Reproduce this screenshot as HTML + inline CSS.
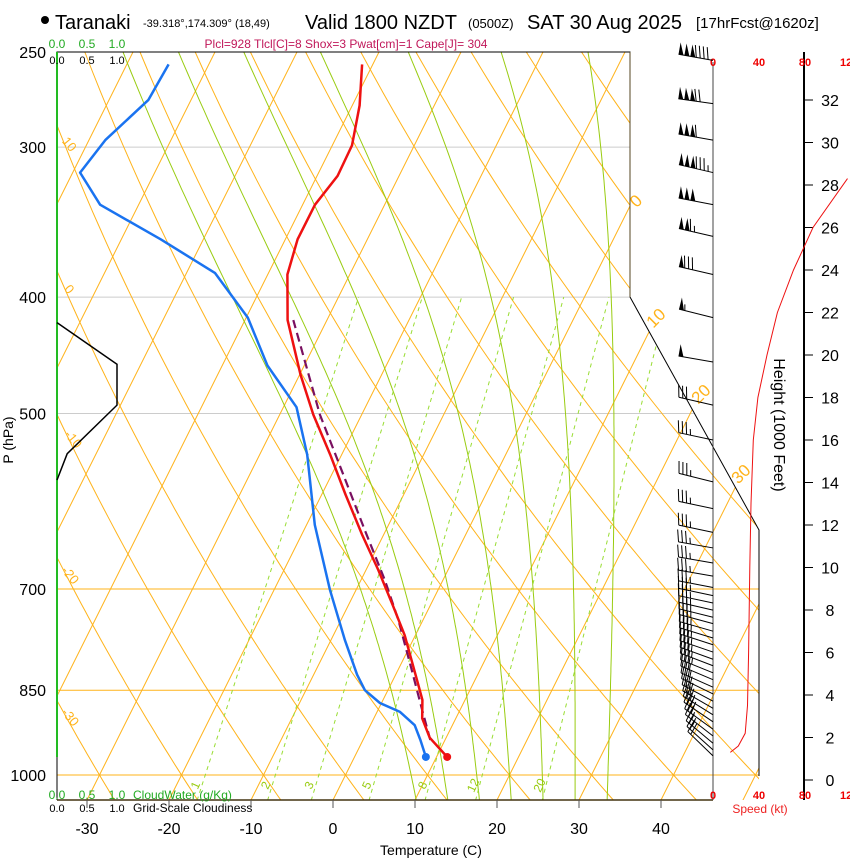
<!DOCTYPE html>
<html><head><meta charset="utf-8">
<style>
html,body{margin:0;padding:0;background:#fff;}
svg{display:block;font-family:"Liberation Sans",Arial,sans-serif;}
</style></head>
<body>
<svg id="chart" width="850" height="860" viewBox="0 0 850 860" xmlns="http://www.w3.org/2000/svg">
<defs>
<clipPath id="plotclip"><polygon points="57,52 630,52 630,297 759,530 759,800 57,800"/></clipPath>
</defs>
<g>
<circle cx="45" cy="20" r="4" fill="#000"/>
<text x="55" y="29" font-size="20">Taranaki</text>
<text x="143" y="27" font-size="11">-39.318°,174.309° (18,49)</text>
<text x="305" y="29" font-size="20">Valid 1800 NZDT</text>
<text x="468" y="28" font-size="13">(0500Z)</text>
<text x="527" y="29" font-size="20">SAT 30 Aug 2025</text>
<text x="696" y="28" font-size="15">[17hrFcst@1620z]</text>
</g>
<text x="346" y="48" font-size="12" fill="#c0185a" text-anchor="middle">Plcl=928 Tlcl[C]=8 Shox=3 Pwat[cm]=1 Cape[J]= 304</text>
<g id="bg" clip-path="url(#plotclip)"></g>
<g id="fg"></g>
</svg>
<script>
// ---- data ----
const tempP = [966,931,897,866,833,765,722,675,631,584,541,501,464,418,383,358,335,317,299,277,256];
const tempT = [11.3,8.0,5.9,4.8,2.9,-1.3,-4.6,-8.5,-12.6,-17.1,-21.4,-25.9,-29.9,-34.8,-37.6,-38.5,-38.5,-37.5,-37.6,-39.1,-41.3];
const dewP = [966,935,909,886,871,850,825,772,701,619,541,494,456,416,382,358,335,315,296,274,256];
const dewT = [8.7,7.0,5.4,2.8,-0.2,-2.8,-4.7,-8.3,-13.2,-19.0,-24.2,-28.4,-34.5,-39.8,-46.5,-55.2,-64.7,-69.1,-68.0,-65.2,-64.9];
const parcelP = [935,883,818,743,688,625,568,501,418];
const parcelT = [8.2,5.4,1.7,-3.0,-7.1,-12.6,-18.0,-25.1,-34.1];
const cloudP = [420,455,492,540,568];
const cloudFrac = [0.0,1.0,1.0,0.17,0.0];
const windP = [254,276,296,315,335,356,383,416,453,492,526,570,600,628,647,666,683,698,709,719,729,739,748,759,769,779,790,801,811,822,833,845,856,868,880,891,903,916,928,941,953,964];
const windSpd = [190,170,160,185,150,115,80,55,50,30,35,35,35,35,35,35,35,35,35,35,35,35,35,35,35,35,35,35,35,35,33,33,33,33,33,32,32,30,28,25,22,20];
const windDir = [280,278,280,283,281,283,283,284,280,283,282,284,282,282,280,280,280,281,282,282,283,284,285,286,287,288,289,290,291,292,293,294,296,298,300,302,304,306,308,310,312,314];
const speedH = [1.3,1.6,2.2,3.5,6,10,13,16,18,20,22,24,26,28.3];
const speedV = [15,22,28,30,31,32,33,35,39,47,56,70,87,117];
const isoT = [-110,-100,-90,-80,-70,-60,-50,-40,-30,-20,-10,0,10,20,30,40,50];
const thetaC = [-40,-30,-20,-10,0,10,20,30,40,50,60,70,80,90,100,110,120,130,140,150,160];
const moistT = [8,12,16,20,24,28,32];
const mixW = [1,2,3,5,8,12,20];
const pTicks = [250,300,400,500,700,850,1000];
const tTicks = [-30,-20,-10,0,10,20,30,40];
const hTicks = [0,2,4,6,8,10,12,14,16,18,20,22,24,26,28,30,32];

// ---- axes ----
const NS="http://www.w3.org/2000/svg";
function yP(p){return 775-521.5*Math.log(1000/p);}
function xT(t,p){return 333+8.2*t+0.5*(800-yP(p));}
function yH(h){return 780-21.25*h;}
function xS(s){return 713+s*1.15;}
const bg=document.getElementById('bg'), fg=document.getElementById('fg');
function el(tag,attrs,parent){const e=document.createElementNS(NS,tag);for(const k in attrs)e.setAttribute(k,attrs[k]);parent.appendChild(e);return e;}
function pathD(pts){return pts.map((q,i)=>(i?'L':'M')+q[0].toFixed(1)+','+q[1].toFixed(1)).join('');}
function txt(x,y,s,attrs,parent){const t=el('text',Object.assign({x:x,y:y},attrs),parent);t.textContent=s;return t;}
const ORANGE="#ffb31a", GREEN="#99cc11";

[1000,850,700].forEach(p=>{
 const l=el('line',{x1:57,x2:760,y1:yP(p),y2:yP(p),stroke:ORANGE,'stroke-width':1},bg);
 
 
});
[500,400,300].forEach(p=>{
 const l=el('line',{x1:57,x2:760,y1:yP(p),y2:yP(p),stroke:'#cccccc','stroke-width':1},bg);
 
 
});
isoT.forEach(t=>{
 const l=el('line',{x1:xT(t,1050),y1:yP(1050),x2:xT(t,240),y2:yP(240),stroke:ORANGE,'stroke-width':1},bg);
 
 
});
thetaC.forEach(th=>{
 const pts=[];for(let p=1060;p>=240;p-=10){const T=(th+273.15)*Math.pow(p/1000,0.2857)-273.15;pts.push([xT(T,p),yP(p)]);}
 const l=el('path',{d:pathD(pts),fill:'none',stroke:ORANGE,'stroke-width':1},bg);
 
 
});
function es(T){return 6.112*Math.exp(17.67*T/(T+243.5));}
function moistLapse(T,p){const Tk=T+273.15;const e=es(T);const r=0.622*e/(p-e);const Lv=2.5e6,Rd=287,cp=1005,eps=0.622;
 return (Rd*Tk+Lv*r)/(cp+Lv*Lv*r*eps/(Rd*Tk*Tk))/p;}
moistT.forEach(t0=>{
 let T=t0,p=1000;const up=[];
 while(p>=240){up.push([xT(T,p),yP(p)]);T-=moistLapse(T,p)*5;p-=5;}
 T=t0;p=1000;const dn=[];
 while(p<=1060){dn.unshift([xT(T,p),yP(p)]);T+=moistLapse(T,p)*5;p+=5;}
 const l=el('path',{d:pathD(dn.concat(up)),fill:'none',stroke:GREEN,'stroke-width':1},bg);
 
 
});
function tdFromW(w,p){const e=w*p/(622+w);const a=Math.log(e/6.112);return 243.5*a/(17.67-a);}
mixW.forEach(w=>{
 const l=el('line',{x1:xT(tdFromW(w,1050),1050),y1:yP(1050),x2:xT(tdFromW(w,400),400),y2:yP(400),stroke:'#99dd33','stroke-width':1,'stroke-dasharray':'4,4'},bg);
 
 
 const x=xT(tdFromW(w,1025),1025)-2;
 const t=txt(x,787,String(w),{'font-size':12,fill:GREEN,'text-anchor':'middle',transform:'rotate(-65 '+x+' 787)'},fg);
 
 
});
const border=el('polyline',{points:'57,800 57,52 630,52 630,297 759,530 759,776',fill:'none',stroke:'#000','stroke-width':1},fg);


el('line',{x1:630,y1:52,x2:630,y2:297,stroke:'#554422','stroke-width':1},fg);
const bot=el('line',{x1:57,x2:713,y1:800,y2:800,stroke:'#443311','stroke-width':1.5},fg);


const cw=el('line',{x1:57,x2:57,y1:52,y2:757,stroke:'#22bb22','stroke-width':2},fg);


[[0,640,205],[10,660,322],[20,705,398],[30,745,478]].forEach(a=>{
 const t=txt(a[1],a[2],String(a[0]),{'font-size':17,fill:ORANGE,'text-anchor':'middle',transform:'rotate(-45 '+a[1]+' '+a[2]+')'},fg);
 
 
});
[[10,66,147],[0,66,292],[-10,70,442],[-20,67,578],[-30,67,720]].forEach(a=>{
 const t=txt(a[1],a[2],String(a[0]),{'font-size':13,fill:ORANGE,'text-anchor':'middle',transform:'rotate(50 '+a[1]+' '+a[2]+')'},fg);
 
 
});
{const pts=cloudP.map((p,i)=>[57+60*cloudFrac[i],yP(p)]);
 const l=el('path',{d:pathD(pts),fill:'none',stroke:'#000','stroke-width':1.5},fg);
 
 }
{const pts=parcelP.map((p,i)=>[xT(parcelT[i],p),yP(p)]);
 const l=el('path',{d:pathD(pts),fill:'none',stroke:'#7a1060','stroke-width':2.2,'stroke-dasharray':'9,5'},fg);
 
 }
{const pts=dewP.map((p,i)=>[xT(dewT[i],p),yP(p)]);
 const l=el('path',{d:pathD(pts),fill:'none',stroke:'#1a73f0','stroke-width':2.5,'stroke-linejoin':'round'},fg);
 
 
 const c=el('circle',{cx:pts[0][0],cy:pts[0][1],r:4,fill:'#1a73f0'},fg);
 
 }
{const pts=tempP.map((p,i)=>[xT(tempT[i],p),yP(p)]);
 const l=el('path',{d:pathD(pts),fill:'none',stroke:'#ee1111','stroke-width':2.5,'stroke-linejoin':'round'},fg);
 
 
 const c=el('circle',{cx:pts[0][0],cy:pts[0][1],r:4,fill:'#ee1111'},fg);
 
 }
pTicks.forEach(p=>{
 const t=txt(46,yP(p)+6,String(p),{'font-size':16,'text-anchor':'end'},fg);
 
 
});
const yt=txt(0,0,'P (hPa)',{'font-size':14,'text-anchor':'middle',transform:'translate(13,440) rotate(-90)'},fg);


tTicks.forEach(t=>{
 const x=333+8.2*t;
 el('line',{x1:x,x2:x,y1:800,y2:808,stroke:'#555','stroke-width':1},fg);
 const s=txt(x,834,String(t),{'font-size':16,'text-anchor':'middle'},fg);
 
 
});
const xt=txt(431,855,'Temperature (C)',{'font-size':14,'text-anchor':'middle'},fg);


[['0.0',57],['0.5',87],['1.0',117]].forEach(a=>{
 const g1=txt(a[1],48,a[0],{'font-size':12,fill:'#22aa22','text-anchor':'middle'},fg);
 
 
 const g2=txt(a[1],64,a[0],{'font-size':11,'text-anchor':'middle'},fg);
 
 
 const g3=txt(a[1],799,a[0],{'font-size':12,fill:'#22aa22','text-anchor':'middle'},fg);
 
 
 const g4=txt(a[1],812,a[0],{'font-size':11,'text-anchor':'middle'},fg);
 
 
});
const cwl=txt(133,799,'CloudWater (g/Kg)',{'font-size':12,fill:'#22aa22'},fg);


const gcl=txt(133,812,'Grid-Scale Cloudiness',{'font-size':12},fg);


el('line',{x1:713,x2:713,y1:62,y2:800,stroke:'#444','stroke-width':1},fg);
const ha=el('line',{x1:804,x2:804,y1:52,y2:800,stroke:'#000','stroke-width':2},fg);


hTicks.forEach(h=>{
 el('line',{x1:804,x2:813,y1:yH(h),y2:yH(h),stroke:'#000','stroke-width':1},fg);
 const t=txt(830,yH(h)+6,String(h),{'font-size':16,'text-anchor':'middle'},fg);
 
 
});
const hti=txt(0,0,'Height (1000 Feet)',{'font-size':16,'text-anchor':'middle',transform:'translate(774,425) rotate(90)'},fg);


[[0,'0'],[40,'40'],[80,'80'],[120,'12']].forEach(a=>{
 const x=xS(a[0]);
 const t1=txt(x,66,a[1],{'font-size':11,'font-weight':'bold',fill:'#ee0000','text-anchor':a[0]===120?'start':'middle'},fg);
 if(a[0]===120)t1.setAttribute('x',840);
 
 
 const t2=txt(x,799,a[1],{'font-size':11,'font-weight':'bold',fill:'#ee0000','text-anchor':a[0]===120?'start':'middle'},fg);
 if(a[0]===120)t2.setAttribute('x',840);
 
 
});
const spt=txt(760,813,'Speed (kt)',{'font-size':12,fill:'#ee2222','text-anchor':'middle'},fg);


{const pts=speedH.map((h,i)=>[xS(speedV[i]),yH(h)]);
 const l=el('path',{d:pathD(pts),fill:'none',stroke:'#ee1111','stroke-width':1},fg);
 
 }
windP.forEach((p,i)=>{
 const y0=yP(p),x0=713,L=35;
 const a=(windDir[i])*Math.PI/180;
 const sxu=Math.sin(a), syu=-Math.cos(a);
 const tx=x0+L*sxu, ty=y0+L*syu;
 const g=el('g',{},fg);
 
 
 el('line',{x1:x0,y1:y0,x2:tx,y2:ty,stroke:'#000','stroke-width':1},g);
 let px=syu, py=-sxu; if(py>0){px=-px;py=-py;}
 let s=windSpd[i], pos=0;
 const bl=12;
 let nP=Math.floor(s/50); s-=nP*50; let nB=Math.floor(s/10); s-=nB*10; let nH=s>=5?1:0;
 const step=4;
 for(let k=0;k<nP;k++){
  const bx=tx-sxu*pos, by=ty-syu*pos;
  const cx=tx-sxu*(pos+5), cy=ty-syu*(pos+5);
  el('polygon',{points:bx+','+by+' '+(bx+px*bl)+','+(by+py*bl)+' '+cx+','+cy,fill:'#000'},g);
  pos+=6;
 }
 for(let k=0;k<nB;k++){
  const bx=tx-sxu*pos, by=ty-syu*pos;
  el('line',{x1:bx,y1:by,x2:bx+px*bl+sxu*3,y2:by+py*bl+syu*3,stroke:'#000','stroke-width':1},g);
  pos+=step;
 }
 if(nH){const bx=tx-sxu*pos, by=ty-syu*pos;
  el('line',{x1:bx,y1:by,x2:bx+px*bl*0.5+sxu*1.5,y2:by+py*bl*0.5+syu*1.5,stroke:'#000','stroke-width':1},g);}
});
</script>
</body></html>
